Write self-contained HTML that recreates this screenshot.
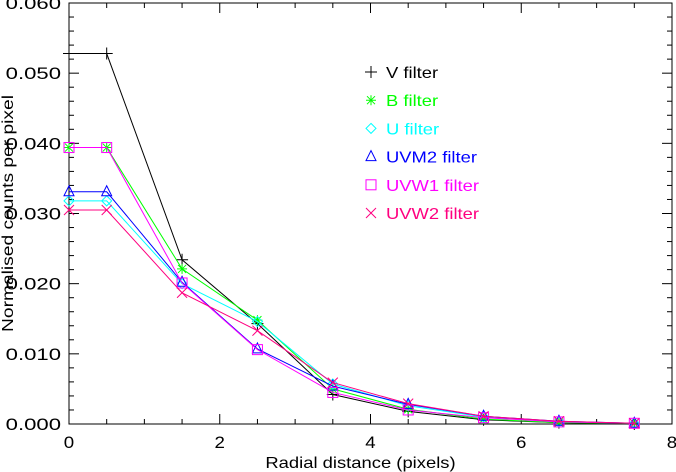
<!DOCTYPE html>
<html><head><meta charset="utf-8"><style>
body{margin:0;background:#fff}
svg{display:block;font-family:"Liberation Sans",sans-serif}
</style></head><body>
<svg id="c" width="676" height="472" viewBox="0 0 676 472" xmlns="http://www.w3.org/2000/svg"></svg>
<script>
const radii=[0,0.5,1.5,2.5,3.5,4.5,5.5,6.5,7.5];
const seriesNames=["V filter","B filter","U filter","UVM2 filter","UVW1 filter","UVW2 filter"];
const vValues=[0.0528,0.0528,0.0234,0.0143,0.0042,0.0018,0.0006,0.0002,0.0000];
const bValues=[0.0394,0.0394,0.0221,0.0148,0.0050,0.0021,0.0007,0.0002,0.0001];
const uValues=[0.0318,0.0318,0.0200,0.0146,0.0057,0.0026,0.0010,0.0003,0.0001];
const uvm2Values=[0.0331,0.0331,0.0202,0.0107,0.0054,0.0028,0.0011,0.0004,0.0001];
const uvw1Values=[0.0394,0.0394,0.0201,0.0106,0.0045,0.0020,0.0009,0.0003,0.0001];
const uvw2Values=[0.0305,0.0305,0.0187,0.0133,0.0059,0.0029,0.0011,0.0004,0.0001];
const xTicks=[0,2,4,6,8];
const yTicks=[0,0.01,0.02,0.03,0.04,0.05,0.06];
const yTickLabels=["0.000","0.010","0.020","0.030","0.040","0.050","0.060"];

const L=69,R=672,T=3,B=424;
const sx=v=>L+(v/8)*(R-L);
const sy=v=>B-(v/0.06)*(B-T);
const svg=document.getElementById('c');
const NS="http://www.w3.org/2000/svg";
function mk(tag,attrs,parent){const e=document.createElementNS(NS,tag);for(const k in attrs)e.setAttribute(k,attrs[k]);(parent||svg).appendChild(e);return e;}
function widen(t,f){const w=t.getComputedTextLength();t.setAttribute('textLength',w*f);t.setAttribute('lengthAdjust','spacingAndGlyphs');}

const frame=mk('rect',{x:L,y:T,width:R-L,height:B-T,fill:'none',stroke:'#000','stroke-width':1});



for(let v=0;v<=8.001;v+=0.5){
  const major=Math.abs(v-Math.round(v/2)*2)<1e-6;
  const len=major?10:5;const x=sx(v);
  mk('line',{x1:x,y1:B,x2:x,y2:B-len,stroke:'#000'});
  mk('line',{x1:x,y1:T,x2:x,y2:T+len,stroke:'#000'});
}
for(let i=0;i<=30;i++){
  const v=i*0.002;const major=i%5===0;const len=major?10:5;const y=sy(v);
  mk('line',{x1:L,y1:y,x2:L+len,y2:y,stroke:'#000'});
  mk('line',{x1:R,y1:y,x2:R-len,y2:y,stroke:'#000'});
}
xTicks.forEach(v=>{
  const t=mk('text',{x:sx(v),y:B+24,'text-anchor':'middle','font-size':17});
  t.textContent=v;
  
  
  widen(t,1.1);
});
yTicks.forEach((v,i)=>{
  const t=mk('text',{x:L-8,y:sy(v)+6,'text-anchor':'end','font-size':17});
  t.textContent=yTickLabels[i];
  
  
  widen(t,1.3);
});
const xt=mk('text',{x:(L+R)/2-10,y:468,'text-anchor':'middle','font-size':16});
xt.textContent="Radial distance (pixels)";


widen(xt,1.15);
const cy=(T+B)/2;
const yt=mk('text',{x:13,y:cy,'text-anchor':'middle','font-size':16,transform:`rotate(-90 13 ${cy})`});
yt.textContent="Normalised counts per pixel";


widen(yt,1.2);

function symbol(g,kind,x,y,c){
  const s=5;
  if(kind==='plus'){mk('path',{d:`M${x-s-1} ${y}H${x+s+1}M${x} ${y-s-1}V${y+s+1}`,stroke:c,fill:'none'},g);}
  else if(kind==='star'){mk('path',{d:`M${x-s} ${y}H${x+s}M${x} ${y-s}V${y+s}M${x-4} ${y-4}L${x+4} ${y+4}M${x-4} ${y+4}L${x+4} ${y-4}`,stroke:c,fill:'none'},g);}
  else if(kind==='diamond'){mk('path',{d:`M${x} ${y-s}L${x+s} ${y}L${x} ${y+s}L${x-s} ${y}Z`,stroke:c,fill:'none'},g);}
  else if(kind==='tri'){mk('path',{d:`M${x} ${y-s-1}L${x+s} ${y+4}L${x-s} ${y+4}Z`,stroke:c,fill:'none'},g);}
  else if(kind==='square'){mk('rect',{x:x-s,y:y-s,width:2*s,height:2*s,stroke:c,fill:'none'},g);}
  else if(kind==='x'){mk('path',{d:`M${x-s} ${y-s}L${x+s} ${y+s}M${x-s} ${y+s}L${x+s} ${y-s}`,stroke:c,fill:'none'},g);}
}
const all=[vValues,bValues,uValues,uvm2Values,uvw1Values,uvw2Values];
const colors=['#000000','#00ff00','#00ffff','#0000ff','#ff00ff','#ff0080'];
const kinds=['plus','star','diamond','tri','square','x'];
const sNames=['series-v','series-b','series-u','series-uvm2','series-uvw1','series-uvw2'];
all.forEach((vals,i)=>{
  const g=mk('g',{});
  
  
  const pts=vals.map((v,j)=>sx(radii[j])+','+sy(v)).join(' ');
  mk('polyline',{points:pts,fill:'none',stroke:colors[i],'stroke-width':1},g);
  vals.forEach((v,j)=>symbol(g,kinds[i],sx(radii[j]),sy(v),colors[i]));
  const lg=mk('g',{});
  
  
  const ly=72+i*28.2;
  symbol(lg,kinds[i],371,ly,colors[i]);
  const t=mk('text',{x:386,y:ly+6,'font-size':16,fill:colors[i]},lg);
  t.textContent=seriesNames[i];
  widen(t,1.15);
});
</script>
</body></html>
